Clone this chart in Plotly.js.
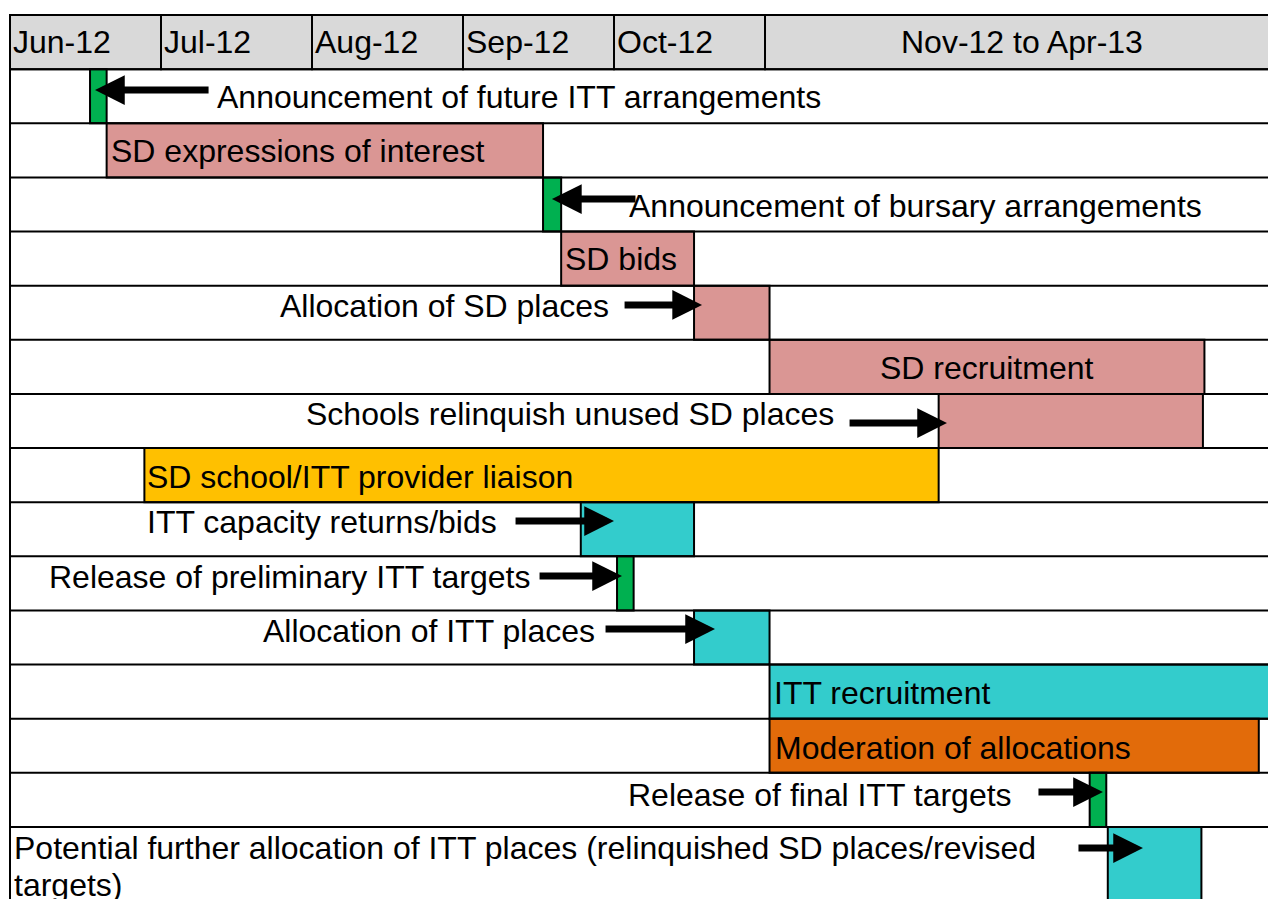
<!DOCTYPE html>
<html>
<head>
<meta charset="utf-8">
<script src="https://cdn.plot.ly/plotly-3.0.1.min.js"></script>
<style>
html,body{margin:0;padding:0;background:#fff;}
#chart{width:1268px;height:899px;}
</style>
</head>
<body>
<div id="chart"></div>
<script>
// ---- Data (months since start of Jun-12) ----
const headerLabels = ['Jun-12', 'Jul-12', 'Aug-12', 'Sep-12', 'Oct-12', 'Nov-12 to Apr-13'];
const headerStart  = [0, 1, 2, 3, 4, 5];
const headerEnd    = [1, 2, 3, 4, 5, 8.4];

const taskLabels = [
  'Announcement of future ITT arrangements',
  'SD expressions of interest',
  'Announcement of bursary arrangements',
  'SD bids',
  'Allocation of SD places',
  'SD recruitment',
  'Schools relinquish unused SD places',
  'SD school/ITT provider liaison',
  'ITT capacity returns/bids',
  'Release of preliminary ITT targets',
  'Allocation of ITT places',
  'ITT recruitment',
  'Moderation of allocations',
  'Release of final ITT targets',
  'Potential further allocation of ITT places (relinquished SD places/revised<br>targets)'
];
const taskStart = [0.53, 0.64, 3.53, 3.65, 4.53, 5.03, 6.15, 0.89, 3.78, 4.02, 4.53, 5.03, 5.03, 7.15, 7.27];
const taskEnd   = [0.64, 3.53, 3.65, 4.53, 5.03, 7.91, 7.90, 6.15, 4.53, 4.13, 5.03, 8.40, 8.27, 7.26, 7.89];
const taskType  = ['milestone', 'sd', 'milestone', 'sd', 'sd', 'sd', 'sd', 'liaison',
                   'itt', 'milestone', 'itt', 'itt', 'moderation', 'milestone', 'itt'];

// ---- Styles / layout config ----
const typeColor = {
  milestone: '#00B050', sd: '#DA9694', liaison: '#FFC000', itt: '#33CCCC', moderation: '#E26B0A'
};
const FONT = 'Arial, "Liberation Sans", sans-serif';
const FS = 32;

// label placement: [x (months), y (row units), xanchor]
const labelPlace = [
  [1.360, 1.515, 'left'],
  [0.655, 2.51, 'left'],
  [4.085, 3.53, 'left'],
  [3.665, 4.51, 'left'],
  [3.98, 5.38, 'right'],
  [6.47, 6.52, 'center'],
  [5.47, 7.37, 'right'],
  [0.897, 8.53, 'left'],
  [3.24, 9.37, 'right'],
  [3.46, 10.38, 'right'],
  [3.89, 11.38, 'right'],
  [5.043, 12.53, 'left'],
  [5.053, 13.54, 'left'],
  [6.65, 14.41, 'right'],
  [0.010, 15.39, 'left']
];
// callout arrows: [row index, tailX, headX, y]
const arrows = [
  [1, 1.325, 0.563, 1.386],
  [3, 4.152, 3.589, 3.40],
  [5, 4.060, 4.583, 5.357],
  [7, 5.550, 6.205, 7.537],
  [9, 3.338, 4.000, 9.348],
  [10, 3.497, 4.053, 10.364],
  [11, 3.934, 4.669, 11.343],
  [14, 6.801, 7.238, 14.354],
  [15, 7.066, 7.503, 15.389]
];

const nRows = taskLabels.length;
const yTop = -0.277, yBot = 16.33;
const xMin = -0.0662, xMax = 8.331;

// ---- Traces ----
const headerTrace = {
  type: 'bar', orientation: 'h',
  base: headerStart,
  x: headerStart.map((s, i) => headerEnd[i] - s),
  y: headerStart.map(() => 0.5),
  width: headerStart.map(() => 1),
  marker: {color: '#D9D9D9', line: {color: '#000', width: 2}},
  hoverinfo: 'skip', showlegend: false
};

const rowCenter = taskLabels.map((_, i) => (i === nRows - 1) ? (i + 1) + 0.7 : (i + 1) + 0.5);
const rowWidth = taskLabels.map((_, i) => (i === nRows - 1) ? 1.4 : 1);

const taskTrace = {
  type: 'bar', orientation: 'h',
  base: taskStart,
  x: taskStart.map((s, i) => taskEnd[i] - s),
  y: rowCenter,
  width: rowWidth,
  marker: {color: taskType.map(t => typeColor[t]), line: {color: '#000', width: 2}},
  hoverinfo: 'skip', showlegend: false
};

// ---- Shapes: row separators and left border ----
const shapes = [];
for (let k = 0; k <= nRows; k++) {
  shapes.push({type: 'line', xref: 'x', yref: 'y', x0: 0, x1: 8.6, y0: k, y1: k,
               line: {color: '#000', width: 2}, layer: 'above'});
}
shapes.push({type: 'line', xref: 'x', yref: 'y', x0: 0, x1: 0, y0: 0, y1: 16.5,
             line: {color: '#000', width: 2}, layer: 'above'});

// ---- Annotations ----
const annotations = [];
headerLabels.forEach((lab, i) => {
  const last = i === headerLabels.length - 1;
  annotations.push({
    xref: 'x', yref: 'y',
    x: last ? 6.70 : headerStart[i] + 0.005, y: 0.49,
    xanchor: last ? 'center' : 'left', yanchor: 'middle',
    text: lab, showarrow: false,
    font: {family: FONT, size: FS, color: '#000'}
  });
});
taskLabels.forEach((lab, i) => {
  const p = labelPlace[i];
  const lines = lab.split('<br>');
  lines.forEach((ln, j) => {
    annotations.push({
      xref: 'x', yref: 'y',
      x: p[0], y: p[1] + j * 0.683,
      xanchor: p[2], yanchor: 'middle',
      text: ln, showarrow: false,
      font: {family: FONT, size: FS, color: '#000'}
    });
  });
});
arrows.forEach(a => {
  annotations.push({
    xref: 'x', yref: 'y', axref: 'x', ayref: 'y',
    x: a[2], y: a[3], ax: a[1], ay: a[3],
    text: '', showarrow: true,
    arrowhead: 2, arrowsize: 0.85, arrowwidth: 7, arrowcolor: '#000',
    standoff: 0, startstandoff: 0
  });
});

const layout = {
  width: 1268, height: 899,
  margin: {l: 0, r: 0, t: 0, b: 0, pad: 0},
  paper_bgcolor: '#fff', plot_bgcolor: '#fff',
  barmode: 'overlay',
  xaxis: {range: [xMin, xMax], visible: false, fixedrange: true},
  yaxis: {range: [yBot, yTop], visible: false, fixedrange: true},
  shapes: shapes,
  annotations: annotations,
  showlegend: false
};

Plotly.newPlot('chart', [headerTrace, taskTrace], layout, {displayModeBar: false, staticPlot: true});
</script>
</body>
</html>
